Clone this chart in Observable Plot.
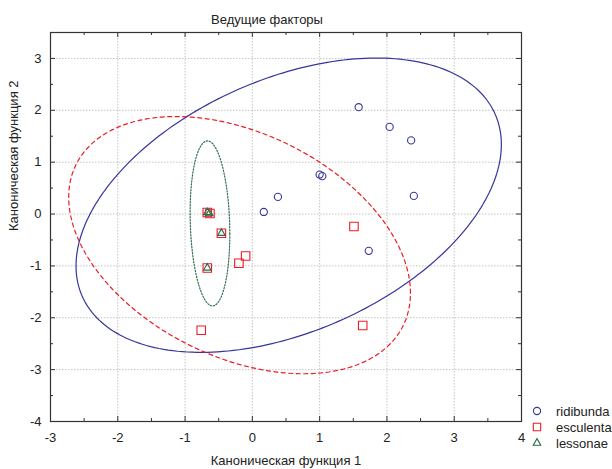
<!DOCTYPE html>
<html><head><meta charset="utf-8">
<script src="https://cdn.jsdelivr.net/npm/d3@7"></script>
<script src="https://cdn.jsdelivr.net/npm/@observablehq/plot@0.6"></script>
<style>
body{margin:0;background:#fff;}
svg{font-family:"Liberation Sans",Arial,sans-serif;}
</style>
</head><body><div id="chart"></div>
<script>
// ---- data ----
const species = ["ridibunda", "esculenta", "lessonae"];
const colors = ["#35359c", "#ec1c24", "#2f6b4c"];
const symbols = ["circle", "square", "triangle"];

const ridibundaX = [1.58, 2.04, 2.36, 2.40, 1.00, 1.04, 0.38, 0.17, 1.73];
const ridibundaY = [2.06, 1.68, 1.42, 0.35, 0.76, 0.73, 0.33, 0.04, -0.71];

const esculentaX = [-0.67, -0.63, -0.46, -0.67, -0.10, -0.20, -0.76, 1.51, 1.64];
const esculentaY = [0.03, 0.01, -0.37, -1.04, -0.81, -0.95, -2.24, -0.24, -2.15];

const lessonaeX = [-0.67, -0.64, -0.46, -0.67];
const lessonaeY = [0.03, 0.01, -0.37, -1.04];

// confidence ellipses: centre and shape (covariance-like) matrix
const ellipseCx = [0.54, -0.19, -0.63];
const ellipseCy = [0.17, -0.60, -0.18];
const ellipseSxx = [9.99, 6.45, 0.087];
const ellipseSxy = [3.70, -2.35, -0.06];
const ellipseSyy = [8.05, 6.15, 2.53];

const xTicks = [-3, -2, -1, 0, 1, 2, 3, 4];
const yTicks = [-4, -3, -2, -1, 0, 1, 2, 3];
const xMinor = [-2.5, -1.5, -0.5, 0.5, 1.5, 2.5, 3.5];
const yMinor = [-3.5, -2.5, -1.5, -0.5, 0.5, 1.5, 2.5];

const title = "Ведущие факторы";
const xLabel = "Каноническая функция 1";
const yLabel = "Каноническая функция 2";

// ---- build tables ----
const seriesX = [ridibundaX, esculentaX, lessonaeX];
const seriesY = [ridibundaY, esculentaY, lessonaeY];
const points = species.map((s, i) => seriesX[i].map((x, j) => ({species: s, x, y: seriesY[i][j]})));

function ellipse(i) {
  const a = Math.sqrt(ellipseSxx[i]);
  const b = ellipseSxy[i] / a;
  const d = Math.sqrt(ellipseSyy[i] - b * b);
  const n = 240, pts = [];
  for (let k = 0; k <= n; k++) {
    const t = 2 * Math.PI * k / n;
    const u = Math.cos(t), v = Math.sin(t);
    pts.push({x: ellipseCx[i] + a * u, y: ellipseCy[i] + b * u + d * v});
  }
  return pts;
}
const ell = species.map((s, i) => ellipse(i));

const W = 612, H = 469, mL = 50, mR = 91, mT = 32, mB = 48;
const pw = W - mL - mR, ph = H - mT - mB;
const fmt = d => String(d);
const FS = 13;

const plot = Plot.plot({
  width: W, height: H,
  marginLeft: mL, marginRight: mR, marginTop: mT, marginBottom: mB,
  x: {domain: [-3, 4]},
  y: {domain: [-4, 3.5]},
  style: {fontFamily: "Liberation Sans, Arial, sans-serif", fontSize: FS + "px", background: "white", color: "#222"},
  marks: [
    Plot.gridX(xTicks.slice(1, -1), {stroke: "#c4c4c4", strokeOpacity: 1, strokeDasharray: "1.5,1.5"}),
    Plot.gridY(yTicks.slice(1), {stroke: "#c4c4c4", strokeOpacity: 1, strokeDasharray: "1.5,1.5"}),
    Plot.line(ell[0], {x: "x", y: "y", stroke: colors[0], strokeWidth: 1.2}),
    Plot.line(ell[1], {x: "x", y: "y", stroke: colors[1], strokeWidth: 1.2, strokeDasharray: "4,3.5"}),
    Plot.line(ell[2], {x: "x", y: "y", stroke: colors[2], strokeWidth: 1.2, strokeDasharray: "1.3,1.7"}),
    Plot.dot(points[0], {x: "x", y: "y", symbol: "circle", r: 3.6, stroke: colors[0], strokeWidth: 1.1, fill: "none"}),
    Plot.dot(points[1], {x: "x", y: "y", symbol: "square", r: 4.8, stroke: colors[1], strokeWidth: 1.1, fill: "none"}),
    Plot.dot(points[2], {x: "x", y: "y", symbol: "triangle", r: 2.8, stroke: colors[2], strokeWidth: 1.1, fill: "none"}),
    // inward ticks
    Plot.ruleX(xTicks, {insetTop: ph - 5, stroke: "#333"}),
    Plot.ruleX(xTicks, {insetBottom: ph - 5, stroke: "#333"}),
    Plot.ruleX(xMinor, {insetTop: ph - 3, stroke: "#333"}),
    Plot.ruleX(xMinor, {insetBottom: ph - 3, stroke: "#333"}),
    Plot.ruleY(yTicks, {insetRight: pw - 5, stroke: "#333"}),
    Plot.ruleY(yTicks, {insetLeft: pw - 5, stroke: "#333"}),
    Plot.ruleY(yMinor, {insetRight: pw - 3, stroke: "#333"}),
    Plot.ruleY(yMinor, {insetLeft: pw - 3, stroke: "#333"}),
    Plot.frame({stroke: "#333", strokeWidth: 1.2}),
    Plot.axisX({ticks: xTicks, tickSize: 0, tickPadding: 11, tickFormat: fmt, label: null, fontSize: FS}),
    Plot.axisY({ticks: yTicks, tickSize: 0, tickPadding: 9, tickFormat: fmt, label: null, fontSize: FS}),
    Plot.text([title], {text: d => d, frameAnchor: "top", dx: -19, dy: -18, fontSize: FS, fill: "#222"}),
    Plot.text([xLabel], {text: d => d, frameAnchor: "bottom", dx: 0, dy: 43, fontSize: FS, fill: "#222"}),
    Plot.text([yLabel], {text: d => d, frameAnchor: "left", rotate: -90, dx: -37, dy: 4, fontSize: FS, fill: "#222"})
  ]
});

// legend
const svg = d3.select(plot);
const lg = svg.append("g").attr("transform", `translate(${W - mR + 16},${H - mB - 10})`);
const sizes = [Math.PI * 3.6 * 3.6, Math.PI * 4.8 * 4.8 * 0.75, Math.PI * 2.8 * 2.8];
const d3sym = {circle: d3.symbolCircle, square: d3.symbolSquare, triangle: d3.symbolTriangle};
species.forEach((s, i) => {
  const g = lg.append("g").attr("transform", `translate(0,${i * 16})`);
  g.append("path").attr("d", d3.symbol(d3sym[symbols[i]], sizes[i])())
    .attr("fill", "none").attr("stroke", colors[i]).attr("stroke-width", 1.1);
  g.append("text").attr("x", 19).attr("dy", "0.35em").attr("text-anchor", "start")
    .attr("font-size", FS).attr("fill", "#222").text(s);
});

document.getElementById("chart").appendChild(plot);
</script>
</body></html>
